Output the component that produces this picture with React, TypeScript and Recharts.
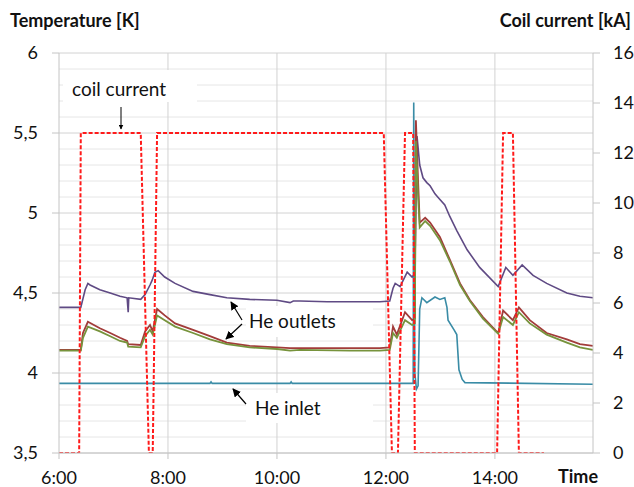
import React from "react";
import {
  LineChart,
  Line,
  XAxis,
  YAxis,
  ReferenceLine,
} from "recharts";

// ---- time axis (hours of day) ----
const xTicks = [6, 8, 10, 12, 14];
const xGridTimes = [8, 10, 12, 14];
const tempTicks = [3.5, 4, 4.5, 5, 5.5, 6];
const tempMinorTicks = [
  3.6, 3.7, 3.8, 3.9, 4.1, 4.2, 4.3, 4.4, 4.6, 4.7, 4.8, 4.9,
  5.1, 5.2, 5.3, 5.4, 5.6, 5.7, 5.8, 5.9,
];
const currentTicks = [0, 2, 4, 6, 8, 10, 12, 14, 16];

// ---- coil current [kA] ----
const coilTimes = [6.0, 6.37, 6.4, 7.5, 7.65, 7.72, 7.8, 11.96, 12.11, 12.22, 12.35, 12.5, 12.53, 14.04, 14.15, 14.33, 14.44, 14.9];
const coilValues = [0, 0, 12.8, 12.8, 0, 0, 12.8, 12.8, 0, 0, 12.8, 12.8, 0, 0, 12.8, 12.8, 0, 0];

// ---- He outlet 1 (purple) [K] ----
const outlet1Times = [6.0, 6.4, 6.48, 6.53, 6.57, 6.75, 6.94, 7.12, 7.25, 7.27, 7.28, 7.5, 7.58, 7.67, 7.71, 7.76, 7.82, 7.94, 8.13, 8.46, 8.77, 9.08, 9.5, 10.0, 10.24, 10.3, 10.42, 10.92, 11.34, 11.89, 12.07, 12.13, 12.17, 12.26, 12.39, 12.48, 12.53, 12.57, 12.62, 12.68, 12.75, 12.81, 12.9, 12.95, 13.08, 13.17, 13.3, 13.49, 13.72, 14.06, 14.2, 14.33, 14.5, 14.7, 14.95, 15.32, 15.56, 15.8];
const outlet1Values = [4.41, 4.41, 4.52, 4.56, 4.55, 4.52, 4.5, 4.48, 4.47, 4.38, 4.47, 4.46, 4.49, 4.55, 4.58, 4.63, 4.64, 4.6, 4.56, 4.51, 4.49, 4.47, 4.46, 4.455, 4.44, 4.45, 4.45, 4.445, 4.445, 4.445, 4.45, 4.53, 4.56, 4.54, 4.63, 4.6, 4.62, 5.48, 5.3, 5.22, 5.19, 5.17, 5.12, 5.1, 5.05, 4.98, 4.89, 4.77, 4.66, 4.54, 4.66, 4.61, 4.675, 4.61, 4.56, 4.5, 4.48, 4.47];

// ---- He outlet 2 (red) [K] ----
const outlet2Times = [6.0, 6.4, 6.44, 6.53, 6.75, 6.94, 7.12, 7.25, 7.27, 7.5, 7.58, 7.67, 7.72, 7.76, 7.8, 7.94, 8.13, 8.46, 8.77, 9.08, 9.5, 10.0, 10.24, 10.42, 11.34, 11.89, 12.07, 12.13, 12.2, 12.35, 12.48, 12.53, 12.55, 12.59, 12.62, 12.72, 12.81, 12.99, 13.17, 13.36, 13.54, 13.78, 14.06, 14.15, 14.33, 14.44, 14.64, 14.95, 15.32, 15.56, 15.8];
const outlet2Values = [4.145, 4.145, 4.25, 4.32, 4.28, 4.25, 4.22, 4.2, 4.18, 4.175, 4.26, 4.3, 4.26, 4.33, 4.4, 4.36, 4.31, 4.27, 4.23, 4.19, 4.17, 4.16, 4.155, 4.155, 4.155, 4.155, 4.16, 4.29, 4.24, 4.38, 4.33, 4.34, 5.58, 5.2, 4.94, 4.97, 4.94, 4.85, 4.71, 4.56, 4.456, 4.35, 4.25, 4.39, 4.33, 4.41, 4.33, 4.25, 4.21, 4.18, 4.17];

// ---- He outlet 3 (green) [K] ----
const outlet3Times = outlet2Times;
const outlet3Values = [4.14, 4.14, 4.22, 4.29, 4.26, 4.23, 4.2, 4.19, 4.165, 4.16, 4.23, 4.27, 4.24, 4.3, 4.36, 4.33, 4.29, 4.25, 4.21, 4.18, 4.16, 4.15, 4.14, 4.145, 4.14, 4.14, 4.145, 4.25, 4.22, 4.33, 4.3, 4.31, 5.45, 5.1, 4.91, 4.95, 4.92, 4.83, 4.7, 4.55, 4.45, 4.34, 4.245, 4.35, 4.3, 4.38, 4.31, 4.24, 4.19, 4.16, 4.145];

// ---- He inlet (teal) [K] ----
const inletTimes = [6.0, 8.77, 8.79, 8.81, 10.24, 10.26, 10.28, 12.5, 12.51, 12.53, 12.56, 12.59, 12.62, 12.66, 12.75, 12.9, 12.99, 13.08, 13.12, 13.14, 13.25, 13.3, 13.34, 13.4, 13.45, 15.8];
const inletValues = [3.935, 3.935, 3.945, 3.935, 3.935, 3.945, 3.935, 3.935, 5.69, 4.0, 3.9, 3.92, 4.4, 4.47, 4.44, 4.475, 4.46, 4.47, 4.41, 4.33, 4.27, 4.24, 4.02, 3.96, 3.94, 3.93];

const zip = (ts: number[], vs: number[]) => ts.map((t, i) => ({ t, v: vs[i] }));

const coilData = zip(coilTimes, coilValues);
const outlet1Data = zip(outlet1Times, outlet1Values);
const outlet2Data = zip(outlet2Times, outlet2Values);
const outlet3Data = zip(outlet3Times, outlet3Values);
const inletData = zip(inletTimes, inletValues);

const FONT = "Lato, 'Open Sans', sans-serif";
const AXIS_COLOR = "#c4c4c4";

const fmtComma = (v: number) => String(v).replace(".", ",");

export default function App() {
  return (
    <div style={{ position: "absolute", left: 0, top: 0, width: 634, height: 487, background: "#fff", fontFamily: FONT }}>
      <LineChart
        width={634}
        height={487}
        margin={{ top: 53, right: 0, bottom: 0, left: 0 }}
      >
        {tempMinorTicks.map((v) => (
          <ReferenceLine key={`mn${v}`} yAxisId="T" y={v} stroke="#e6e6e6" strokeWidth={1} zIndex={-20} />
        ))}
        {tempTicks.map((v) => (
          <ReferenceLine key={`mj${v}`} yAxisId="T" y={v} stroke="#d2d2d2" strokeWidth={1} zIndex={-10} />
        ))}
        {xGridTimes.map((v) => (
          <ReferenceLine key={`vx${v}`} yAxisId="T" x={v} stroke="#d2d2d2" strokeWidth={1} zIndex={-10} />
        ))}
        <XAxis
          dataKey="t"
          type="number"
          domain={[6, 15.8]}
          ticks={xTicks}
          allowDataOverflow
          tickFormatter={(v: number) => `${v}:00`}
          height={34}
          tickSize={6}
          tickMargin={12}
          axisLine={{ stroke: AXIS_COLOR }}
          tickLine={{ stroke: AXIS_COLOR }}
          tick={{ fill: "#111", fontSize: 18, fontFamily: FONT }}
        />
        <YAxis
          yAxisId="T"
          orientation="left"
          domain={[3.5, 6]}
          ticks={tempTicks}
          allowDataOverflow
          tickFormatter={fmtComma}
          width={59}
          tickSize={7}
          tickMargin={14}
          axisLine={{ stroke: AXIS_COLOR }}
          tickLine={{ stroke: AXIS_COLOR }}
          tick={{ fill: "#111", fontSize: 18, fontFamily: FONT }}
        />
        <YAxis
          yAxisId="I"
          orientation="right"
          domain={[0, 16]}
          ticks={currentTicks}
          allowDataOverflow
          width={41}
          tickSize={7}
          tickMargin={13}
          axisLine={{ stroke: AXIS_COLOR }}
          tickLine={{ stroke: AXIS_COLOR }}
          tick={{ fill: "#111", fontSize: 18, fontFamily: FONT }}
        />
        <Line
          yAxisId="T"
          data={inletData}
          dataKey="v"
          stroke="#3a8ca6"
          strokeWidth={1.6}
          dot={false}
          isAnimationActive={false}
        />
        <Line
          yAxisId="T"
          data={outlet1Data}
          dataKey="v"
          stroke="#5f4a84"
          strokeWidth={1.6}
          dot={false}
          isAnimationActive={false}
        />
        <Line
          yAxisId="T"
          data={outlet2Data}
          dataKey="v"
          stroke="#a23c3a"
          strokeWidth={1.8}
          dot={false}
          isAnimationActive={false}
        />
        <Line
          yAxisId="T"
          data={outlet3Data}
          dataKey="v"
          stroke="#77933c"
          strokeWidth={1.8}
          dot={false}
          isAnimationActive={false}
        />
        <Line
          yAxisId="I"
          data={coilData}
          dataKey="v"
          stroke="#ff1a1a"
          strokeWidth={2}
          strokeDasharray="4 2"
          dot={false}
          isAnimationActive={false}
        />
      </LineChart>
      <svg
        width={634}
        height={487}
        style={{ position: "absolute", left: 0, top: 0, pointerEvents: "none" }}
      >
        <defs>
          <marker id="arrow" viewBox="0 0 10 10" refX="9" refY="5" markerWidth="7" markerHeight="7" orient="auto-start-reverse">
            <path d="M0,0 L10,5 L0,10 z" fill="#000" />
          </marker>
          <marker id="arrowSmall" viewBox="0 0 10 10" refX="9" refY="5" markerWidth="5" markerHeight="5" orient="auto-start-reverse">
            <path d="M0,0 L10,5 L0,10 z" fill="#000" />
          </marker>
        </defs>
        <text x={10} y={27} fontFamily={FONT} fontWeight="bold" fontSize={18} fill="#111">
          Temperature [K]
        </text>
        <text x={631} y={27} textAnchor="end" fontFamily={FONT} fontWeight="bold" fontSize={18} fill="#111">
          Coil current [kA]
        </text>
        <text x={598} y={483} textAnchor="end" fontFamily={FONT} fontWeight="bold" fontSize={18} fill="#111">
          Time
        </text>

        <rect x={63} y={70} width={134} height={32} fill="#fff" />
        <text x={72} y={96} fontFamily={FONT} fontSize={19} fill="#111">
          coil current
        </text>
        <line x1={121} y1={107} x2={121} y2={129} stroke="#000" strokeWidth={1} markerEnd="url(#arrowSmall)" />

        <rect x={246} y={306} width={127} height={31} fill="#fff" />
        <text x={249} y={328} fontFamily={FONT} fontSize={19} fill="#111">
          He outlets
        </text>
        <line x1={242} y1={320} x2={231} y2={302} stroke="#000" strokeWidth={1.2} markerEnd="url(#arrow)" />
        <line x1={242} y1={324} x2={226} y2={339} stroke="#000" strokeWidth={1.2} markerEnd="url(#arrow)" />

        <rect x={246} y={393} width={127} height={30} fill="#fff" />
        <text x={255} y={415} fontFamily={FONT} fontSize={19} fill="#111">
          He inlet
        </text>
        <line x1={246} y1={404} x2={233} y2={389} stroke="#000" strokeWidth={1.2} markerEnd="url(#arrow)" />
      </svg>
    </div>
  );
}
